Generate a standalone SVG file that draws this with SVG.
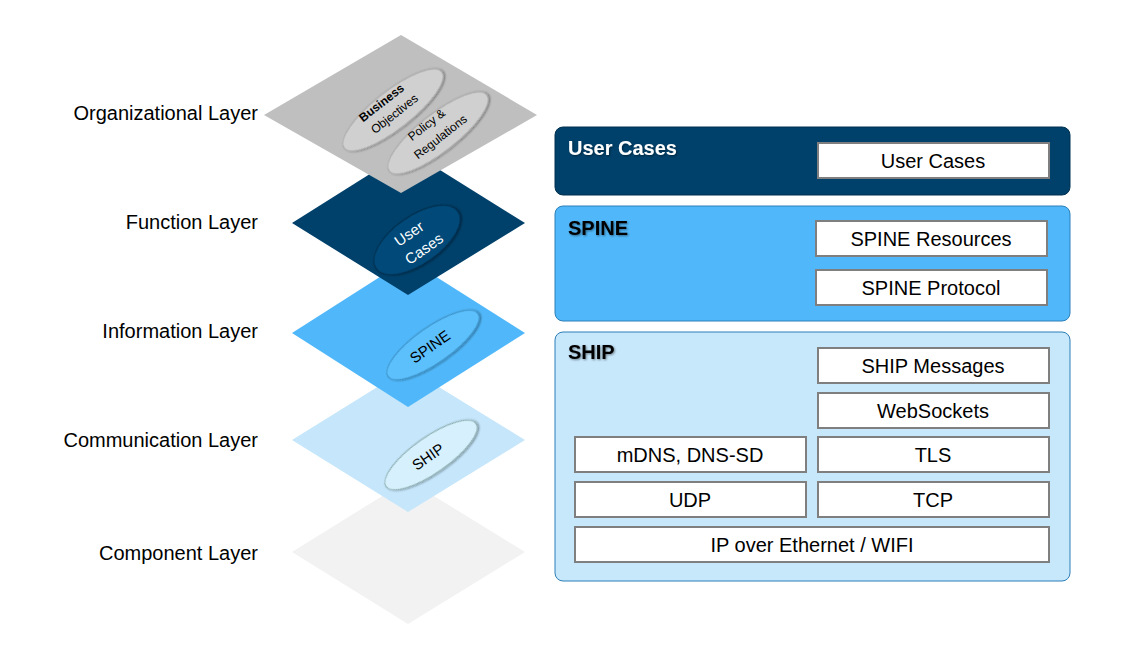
<svg xmlns="http://www.w3.org/2000/svg" width="1124" height="650" viewBox="0 0 1124 650">
<defs>
<style>
text{font-family:"Liberation Sans",Arial,sans-serif}
.lbl{font-size:20px;fill:#000;text-anchor:end}
.box{fill:#fff;stroke:#7f7f7f;stroke-width:2}
.bt{font-size:20px;fill:#000;text-anchor:middle}
.ht{font-size:20px;font-weight:bold}
.et{font-size:15px;fill:#000;text-anchor:middle}
</style>
<filter id="sh" x="-20%" y="-20%" width="140%" height="140%"><feDropShadow dx="1" dy="1" stdDeviation="1.2" flood-color="#000" flood-opacity="0.45"/></filter>
</defs>
<rect width="1124" height="650" fill="#fff"/>
<g id="component"><polygon points="408,480 525,552 408,624 292,552" fill="#f2f2f2"/></g>
<g id="communication"><polygon points="408,368 525,440 408,512 292,440" fill="#c5e6fb"/>
<ellipse cx="431" cy="455" rx="55" ry="18" transform="rotate(-35 431 455)" fill="#d6f1fd" stroke="#8aa" stroke-width="1" filter="url(#sh)"/>
<text class="et" transform="translate(431 461) rotate(-35)">SHIP</text></g>
<g id="information"><polygon points="408,259 525,333 408,407 292,333" fill="#50b8fa"/>
<ellipse cx="433" cy="345" rx="55" ry="18" transform="rotate(-35 433 345)" fill="#5cc0fc" stroke="#3b8fc4" stroke-width="1" filter="url(#sh)"/>
<text class="et" transform="translate(433 351) rotate(-35)">SPINE</text></g>
<g id="function"><polygon points="408,150 525,223 408,295 292,223" fill="#00416b"/>
<ellipse cx="417" cy="240" rx="50" ry="24" transform="rotate(-35 417 240)" fill="#054a78" stroke="#002a48" stroke-width="1" filter="url(#sh)"/>
<text class="et" fill="#fff" style="fill:#fff" transform="translate(412 238) rotate(-35)">User</text>
<text class="et" style="fill:#fff" transform="translate(427 253) rotate(-35)">Cases</text></g>
<g id="organizational"><polygon points="401,35 537,115 401,193 264,115" fill="#bfbfbf"/>
<ellipse cx="393" cy="110" rx="62" ry="19" transform="rotate(-38 393 110)" fill="#d0d0d0" stroke="#aaa" stroke-width="1" filter="url(#sh)"/>
<text style="font-size:12px;font-weight:bold;text-anchor:middle" transform="translate(384 106) rotate(-38)">Business</text>
<text style="font-size:12px;text-anchor:middle" transform="translate(397 117) rotate(-38)">Objectives</text>
<ellipse cx="438" cy="133" rx="62" ry="19" transform="rotate(-38 438 133)" fill="#d0d0d0" stroke="#aaa" stroke-width="1" filter="url(#sh)"/>
<text style="font-size:12px;text-anchor:middle" transform="translate(429 128) rotate(-38)">Policy &amp;</text>
<text style="font-size:12px;text-anchor:middle" transform="translate(443 140) rotate(-38)">Regulations</text></g>
<g id="labels">
<text class="lbl" x="258" y="120">Organizational Layer</text>
<text class="lbl" x="258" y="229">Function Layer</text>
<text class="lbl" x="258" y="338">Information Layer</text>
<text class="lbl" x="258" y="447">Communication Layer</text>
<text class="lbl" x="258" y="560">Component Layer</text>
</g>
<g id="usercases-panel">
<rect x="555" y="127" width="515" height="68" rx="8" fill="#00416b" stroke="#003050"/>
<text class="ht" x="568" y="155" fill="#fff" filter="url(#sh)">User Cases</text>
<rect class="box" x="818" y="143" width="231" height="35"/><text class="bt" x="933" y="168">User Cases</text>
</g>
<g id="spine-panel">
<rect x="555" y="206" width="515" height="115" rx="8" fill="#50b8fa" stroke="#2b7fb8"/>
<text class="ht" x="568" y="235" fill="#000" filter="url(#sh)">SPINE</text>
<rect class="box" x="816" y="221" width="231" height="35"/><text class="bt" x="931" y="246">SPINE Resources</text>
<rect class="box" x="816" y="270" width="231" height="35"/><text class="bt" x="931" y="295">SPINE Protocol</text>
</g>
<g id="ship-panel">
<rect x="555" y="332" width="515" height="249" rx="8" fill="#c7e7fb" stroke="#2b7fb8"/>
<text class="ht" x="568" y="359" fill="#000" filter="url(#sh)">SHIP</text>
<rect class="box" x="818" y="348" width="231" height="35"/><text class="bt" x="933" y="373">SHIP Messages</text>
<rect class="box" x="818" y="393" width="231" height="35"/><text class="bt" x="933" y="418">WebSockets</text>
<rect class="box" x="575" y="437" width="231" height="35"/><text class="bt" x="690" y="462">mDNS, DNS-SD</text>
<rect class="box" x="818" y="437" width="231" height="35"/><text class="bt" x="933" y="462">TLS</text>
<rect class="box" x="575" y="482" width="231" height="35"/><text class="bt" x="690" y="507">UDP</text>
<rect class="box" x="818" y="482" width="231" height="35"/><text class="bt" x="933" y="507">TCP</text>
<rect class="box" x="575" y="527" width="474" height="35"/><text class="bt" x="812" y="552">IP over Ethernet / WIFI</text>
</g>
<g id="connectors"/>
</svg>
